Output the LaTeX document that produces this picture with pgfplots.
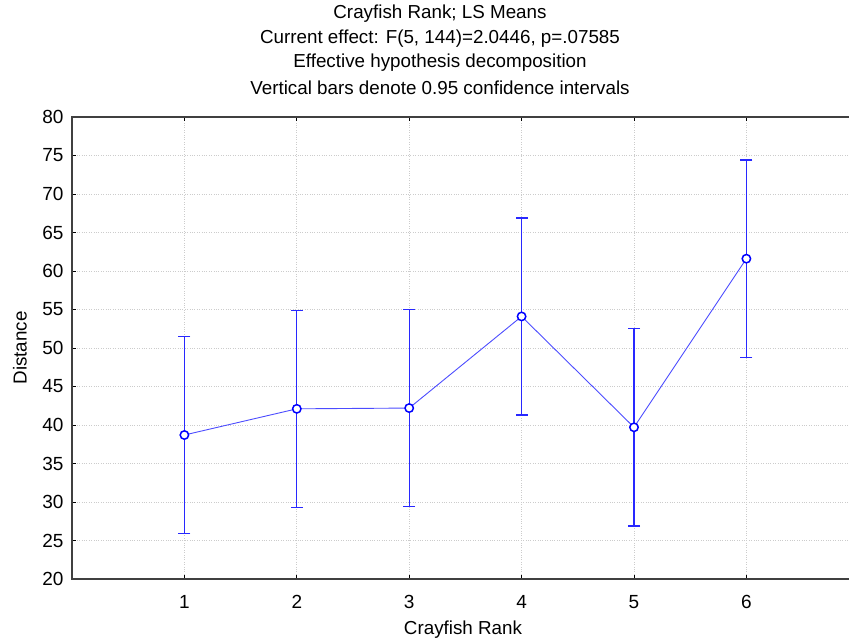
\documentclass[border=0pt]{standalone}
\usepackage{pgfplots}
\pgfplotsset{compat=1.18}
\usepackage{fontspec}
\setmainfont{Liberation Sans}
\pgfplotstableread{
x y
1 38.7
2 42.1
3 42.2
4 54.1
5 39.7
6 61.6
}\means
\pgfplotstableread{
x y
1 25.9
1 51.5
1 nan
2 29.3
2 54.9
2 nan
3 29.4
3 55.0
3 nan
4 41.3
4 66.9
4 nan
5 26.9
5 52.5
5 nan
6 48.8
6 74.4
6 nan
}\cis
\definecolor{ciblue}{RGB}{40,40,255}
\begin{document}
\begin{tikzpicture}[x=1pt,y=1pt]
\useasboundingbox (-72,-63) rectangle (777,579);
\begin{axis}[
  at={(0,0)}, anchor=south west,
  scale only axis, width=786.8pt, height=462pt,
  xmin=0, xmax=7, ymin=20, ymax=80,
  xtick={1,2,3,4,5,6}, ytick={20,25,...,80},
  grid=major, grid style={dotted, gray!40, line width=0.6pt},
  tick align=inside, major tick length=4pt,
  axis line style={black!75, line width=1.2pt},
  tick style={black, line width=0.8pt},
  ticklabel style={font=\fontsize{19}{19}\selectfont, text=black},
  /pgf/number format/assume math mode=true,
  yticklabel style={xshift=-5pt},
  xticklabel style={yshift=-13pt},
  unbounded coords=jump,
  clip=false,
]
\addplot[color=ciblue, line width=1.4pt, mark=-, mark size=6pt,
  mark options={solid, draw=ciblue, line width=1.4pt}]
table[x=x, y=y] {\cis};
\addplot[color=blue!70, line width=0.9pt,
  mark=*, mark size=4.2pt,
  mark options={solid, fill=white, draw=blue, line width=1.5pt}]
table[x=x, y=y] {\means};
\end{axis}
\begin{scope}[font=\fontsize{18.8}{18.8}\selectfont]
\node at (368,565) {Crayfish Rank; LS Means};
\node at (368,540) {Current effect: F(5, 144)=2.0446, p=.07585};
\node at (368,516) {Effective hypothesis decomposition};
\node at (368,491) {Vertical bars denote 0.95 confidence intervals};
\node at (391,-51) {Crayfish Rank};
\node[rotate=90] at (-52,231) {Distance};
\end{scope}
\end{tikzpicture}
\end{document}
